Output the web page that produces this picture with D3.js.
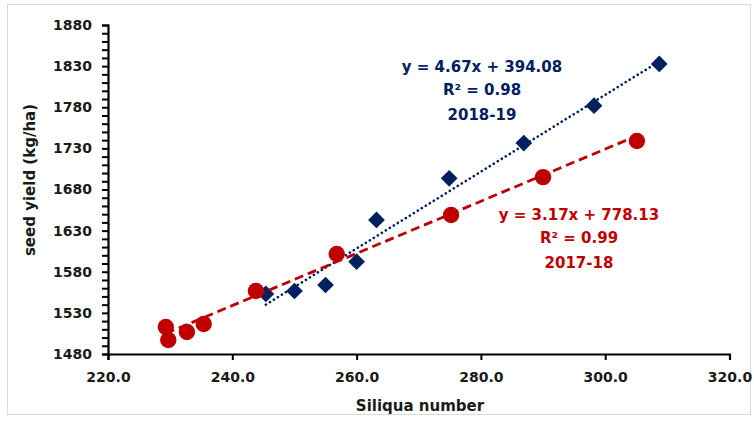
<!DOCTYPE html>
<html><head><meta charset="utf-8">
<script src="https://cdn.jsdelivr.net/npm/d3@7"></script>
<style>body{margin:0;background:#fff;} svg{display:block;}</style>
</head><body>
<svg id="c" width="754" height="422"></svg>
<script>
// 2017-18 (red circles)
const x1718 = [229.3, 229.7, 232.7, 235.4, 243.8, 256.8, 275.2, 290.0, 305.1];
const y1718 = [1512.8, 1497.0, 1506.7, 1516.5, 1556.6, 1601.6, 1649.0, 1695.0, 1739.0];
// 2018-19 (navy diamonds)
const x1819 = [245.4, 250.0, 255.0, 260.0, 263.2, 274.9, 286.9, 298.2, 308.7];
const y1819 = [1553.0, 1556.6, 1563.9, 1592.2, 1643.0, 1693.6, 1736.5, 1781.9, 1832.6];
// trendlines
const fit1718 = {slope: 3.17, intercept: 778.13};
const fit1819 = {slope: 4.67, intercept: 394.08};
const labels1718 = ["y = 3.17x + 778.13", "R² = 0.99", "2017-18"];
const labels1819 = ["y = 4.67x + 394.08", "R² = 0.98", "2018-19"];
const xTicks = [220, 240, 260, 280, 300, 320];
const yTicks = [1480, 1530, 1580, 1630, 1680, 1730, 1780, 1830, 1880];
const xTitle = "Siliqua number";
const yTitle = "seed yield (kg/ha)";

const RED = "#C00000", NAVY = "#002060";
const svg = d3.select("#c");
const font = "'DejaVu Sans', Verdana, sans-serif";

svg.append("rect").attr("x", 7.5).attr("y", 4.5).attr("width", 743).attr("height", 410)
  .attr("fill", "#fff").attr("stroke", "#d9d9d9").attr("stroke-width", 1);

const x = d3.scaleLinear().domain([220, 320]).range([108, 729.5]);
const y = d3.scaleLinear().domain([1480, 1880]).range([354, 25]);

// Y axis
const yAxis = svg.append("g").attr("transform", "translate(108,0)")
  .call(d3.axisLeft(y).tickValues(d3.range(1480, 1881, 10)).tickSize(6).tickPadding(10)
    .tickFormat(d => yTicks.includes(d) ? d3.format("d")(d) : ""));
yAxis.select(".domain").attr("stroke", "#000").attr("stroke-width", 2.2);
yAxis.selectAll(".tick line").attr("stroke", "#000").attr("stroke-width", 2).attr("x2", -6).attr("x1", 1);
yAxis.selectAll(".tick text").attr("font-family", font).attr("font-weight", "bold")
  .attr("font-size", 14).attr("fill", "#1a1a1a");

// X axis
const xAxis = svg.append("g").attr("transform", "translate(0,354)")
  .call(d3.axisBottom(x).tickValues(xTicks).tickSize(6).tickPadding(12).tickFormat(d3.format(".1f")));
xAxis.select(".domain").attr("stroke", "#000").attr("stroke-width", 2.2);
xAxis.selectAll(".tick line").attr("stroke", "#000").attr("stroke-width", 2);
xAxis.selectAll(".tick text").attr("font-family", font).attr("font-weight", "bold")
  .attr("font-size", 14).attr("fill", "#1a1a1a");

// trendlines
function fitLine(xs, f) {
  const lo = d3.min(xs), hi = d3.max(xs);
  return [[lo, f.slope * lo + f.intercept], [hi, f.slope * hi + f.intercept]];
}
const line = d3.line().x(d => x(d[0])).y(d => y(d[1]));

const d1718 = x1718.map((v, i) => [v, y1718[i]]);
const d1819 = x1819.map((v, i) => [v, y1819[i]]);

svg.append("path").attr("d", line(fitLine(x1819, fit1819)))
  .attr("stroke", NAVY).attr("stroke-width", 2.6).attr("fill", "none")
  .attr("stroke-dasharray", "0.1 4.6").attr("stroke-linecap", "round");

svg.append("g").selectAll("path").data(d1819).join("path")
  .attr("d", d3.symbol(d3.symbolSquare, 140)())
  .attr("transform", d => `translate(${x(d[0])},${y(d[1])}) rotate(45)`)
  .attr("fill", NAVY);

svg.append("path").attr("d", line(fitLine(x1718, fit1718)))
  .attr("stroke", RED).attr("stroke-width", 2.8).attr("fill", "none")
  .attr("stroke-dasharray", "9 5");

svg.append("g").selectAll("circle").data(d1718).join("circle")
  .attr("cx", d => x(d[0])).attr("cy", d => y(d[1])).attr("r", 8.2)
  .attr("fill", RED);

// equation labels
function label(lines, cx, ys, color) {
  const t = svg.append("text").attr("font-family", font).attr("font-weight", "bold")
    .attr("font-size", 15).attr("fill", color).attr("text-anchor", "middle");
  lines.forEach((s, i) => t.append("tspan").attr("x", cx).attr("y", ys[i]).text(s));
}
label(labels1819, 482, [72, 95, 120], NAVY);
label(labels1718, 579, [220, 243, 268], RED);

// axis titles
svg.append("text").attr("x", 420).attr("y", 411).attr("text-anchor", "middle")
  .attr("font-family", font).attr("font-weight", "bold").attr("font-size", 15).attr("fill", "#1a1a1a")
  .text(xTitle);
svg.append("text").attr("transform", "translate(35,180) rotate(-90)").attr("text-anchor", "middle")
  .attr("font-family", font).attr("font-weight", "bold").attr("font-size", 15).attr("fill", "#1a1a1a")
  .text(yTitle);
</script>
</body></html>
